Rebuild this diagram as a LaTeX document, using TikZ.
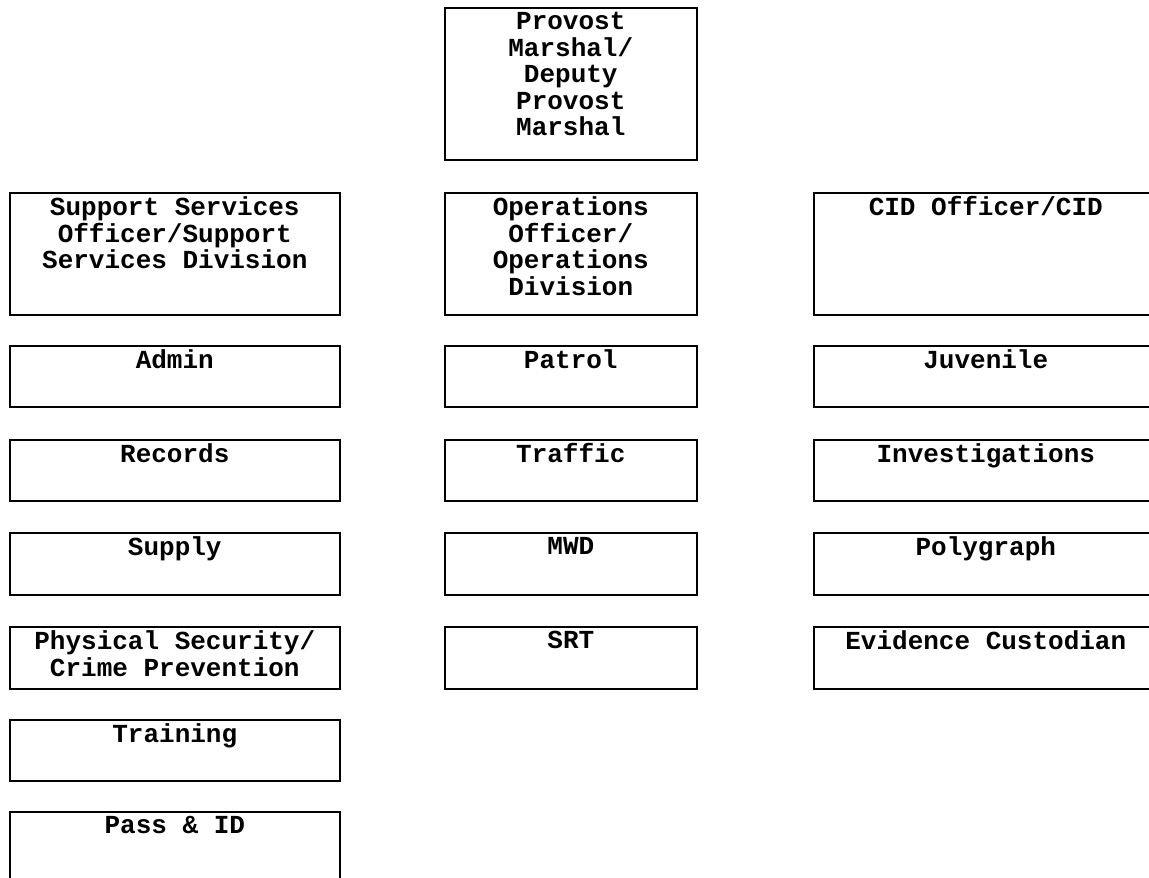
\documentclass[tikz,border=0pt]{standalone}
\usepackage{fontspec}
\newfontfamily\chartfont{Liberation Mono}
\usetikzlibrary{positioning}

\tikzset{
  unit/.style={draw, line width=1.6pt, anchor=north west, inner sep=0pt},
  unitname/.style={anchor=north, align=center, inner sep=0pt,
    font=\chartfont\bfseries\fontsize{26}{26.5}\selectfont}
}

% box: name, left, top, width, height, text
\newcommand{\orgbox}[6]{%
  \node[unit, minimum width=#4pt, minimum height=#5pt] (#1) at (#2,#3) {};
  \node[unitname] (#1-t) at ([yshift=-4.5pt]#1.north) {\rule{0pt}{18pt}#6};}

\begin{document}
\begin{tikzpicture}[x=1pt, y=-1pt]

\useasboundingbox (0,0) rectangle (1149,878);
\clip (0,0) rectangle (1149,878);

\orgbox{pm}{444}{7}{252}{152}{Provost\\Marshal/\\Deputy\\Provost\\Marshal}

% left column
\orgbox{sso}{9}{192}{330}{122}{Support Services\\Officer/Support\\Services Division}
\orgbox{admin}{9}{345}{330}{61}{Admin}
\orgbox{records}{9}{439}{330}{61}{Records}
\orgbox{supply}{9}{532}{330}{62}{Supply}
\orgbox{physsec}{9}{626}{330}{62}{Physical Security/\\Crime Prevention}
\orgbox{training}{9}{719}{330}{61}{Training}
\orgbox{pass}{9}{811}{330}{80}{Pass \& ID}

% middle column
\orgbox{ops}{444}{192}{252}{122}{Operations\\Officer/\\Operations\\Division}
\orgbox{patrol}{444}{345}{252}{61}{Patrol}
\orgbox{traffic}{444}{439}{252}{61}{Traffic}
\orgbox{mwd}{444}{532}{252}{62}{MWD}
\orgbox{srt}{444}{626}{252}{62}{SRT}

% right column
\orgbox{cid}{813}{192}{344}{122}{CID Officer/CID}
\orgbox{juv}{813}{345}{344}{61}{Juvenile}
\orgbox{invest}{813}{439}{344}{61}{Investigations}
\orgbox{poly}{813}{532}{344}{62}{Polygraph}
\orgbox{evid}{813}{626}{344}{62}{Evidence Custodian}

\end{tikzpicture}
\end{document}
